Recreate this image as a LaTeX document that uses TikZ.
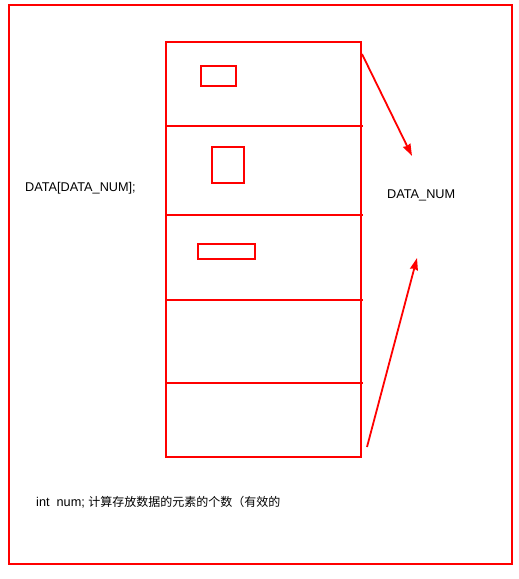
\documentclass[tikz,border=0pt]{standalone}
\usepackage{fontspec}
\setmainfont{Liberation Sans}
\newfontfamily\cjk{Noto Sans CJK SC}
\usepackage{tikz}
\usetikzlibrary{arrows, arrows.meta, positioning}
\tikzset{
  cell/.style={draw=red, line width=1.5pt, rectangle, inner sep=0pt, anchor=north west},
  note/.style={font=\fontsize{12.7}{15}\selectfont, inner sep=0pt, anchor=west},
  pointer/.style={-{Stealth[length=12pt, width=8pt, inset=1pt]}, red, line width=1.8pt},
}

\begin{document}
\begin{tikzpicture}[x=1pt, y=-1pt]
\useasboundingbox (0,0) rectangle (519,579);
\node[cell, minimum width=503pt, minimum height=559pt] (frame) at (8,4) {};
\node[cell, minimum width=195pt, minimum height=415pt] (array) at (165,41) {};
\foreach \y in {126,215,300,383} \draw[red, line width=1.5pt] (165,\y) -- (363,\y);
\node[cell, minimum width=35pt, minimum height=20pt] (elemA) at (200,65) {};
\node[cell, minimum width=32pt, minimum height=36pt] (elemB) at (211,146) {};
\node[cell, minimum width=57pt, minimum height=15pt] (elemC) at (197,243) {};
\node[note] (arrname) at (25,188) {DATA[DATA\_NUM];};
\node[note] (numname) at (387,195) {DATA\_NUM};
\node[note] (counter) at (36,502) {int\ \ num; {\cjk\fontsize{12}{15}\selectfont 计算存放数据的元素的个数（有效的}};
\coordinate (topstart) at (362,54);
\coordinate (topend) at (412,156);
\coordinate (botstart) at (367,447);
\coordinate (botend) at (417,258);
\draw[pointer] (topstart) -- (topend);
\draw[pointer] (botstart) -- (botend);
\end{tikzpicture}
\end{document}
